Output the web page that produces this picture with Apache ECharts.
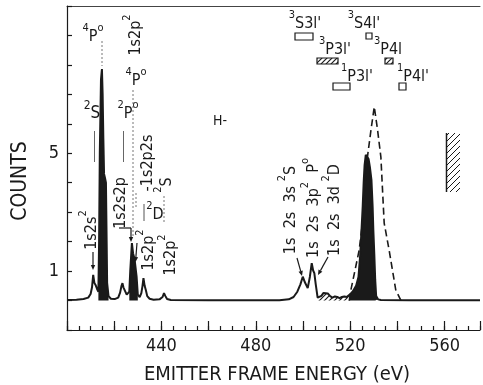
<!DOCTYPE html>
<html><head><meta charset="utf-8">
<script src="https://cdn.jsdelivr.net/npm/echarts@6/dist/echarts.min.js"></script>
<style>html,body{margin:0;padding:0;background:#fff}#c{width:483px;height:385px}</style>
</head><body><div id="c"></div>
<script>
// ---------- data ----------
const solidEnergy = [400,404,407,409,410,410.6,411.1,411.6,412.1,412.7,413.3,413.6,413.9,414.4,414.8,415.1,415.4,415.7,416.1,416.5,416.8,417.0,417.6,418.6,420.2,421.7,422.5,423.1,423.5,423.9,424.6,425.3,425.9,426.4,426.8,427.5,428.0,428.6,429.1,429.5,430.0,430.8,431.5,432.0,432.4,432.9,433.4,434.0,435.0,436.7,439.2,440.5,441.1,441.7,442.4,444,460,490,494.0,496.0,497.6,498.9,499.9,500.8,502.0,502.9,503.7,504.3,504.8,505.4,506.2,507.0,507.8,508.7,509.5,510.5,511.5,512.5,513.5,514.5,515.5,516.5,517.5,518.5,519.8,521,522.5,523.5,524.2,524.8,525.3,525.7,526.1,526.6,527.2,527.8,528.4,529.0,529.5,529.8,530.2,530.6,531.0,531.8,533,545,575];
const solidCounts = [0.02,0.03,0.05,0.1,0.22,0.45,0.87,0.6,0.53,0.4,0.3,2.0,5.0,7.5,7.86,7.0,5.5,4.3,4.16,4.0,2.0,0.6,0.15,0.06,0.05,0.1,0.27,0.5,0.59,0.45,0.39,0.2,0.15,0.3,1.0,1.95,1.6,1.42,1.38,0.8,0.2,0.12,0.25,0.5,0.76,0.5,0.36,0.15,0.06,0.03,0.04,0.12,0.25,0.15,0.05,0.02,0.01,0.01,0.04,0.12,0.3,0.55,0.81,0.62,0.42,0.8,1.27,1.02,0.93,0.55,0.1,0.06,0.16,0.26,0.3,0.24,0.15,0.1,0.14,0.12,0.08,0.12,0.14,0.12,0.2,0.3,0.5,0.8,1.5,2.4,3.2,4.0,4.6,4.95,4.95,4.8,4.5,4.1,3.2,2.4,1.6,0.7,0.15,0.04,0.02,0.01,0.01];
const dashedEnergy = [519.6,520.3,523.8,525.2,527.3,528.8,530.2,531.6,533.0,534.4,536.5,539.3,541.5];
const dashedCounts = [0.0,0.36,1.71,2.63,4.87,5.79,6.58,5.79,4.87,2.63,1.71,0.36,0.0];
const blackRanges = [[413.3,417.6],[426.4,430.0],[519.8,531.8]];
const hatchRange = [506.2,519.8];
const xTickLabels = [440,480,520,560];
const yTickLabels = [1,5];

// ---------- helpers ----------
const F = "'Liberation Sans Narrow','DejaVu Sans Condensed','DejaVu Sans',sans-serif";
const INK = '#1a1a1a';
function hatchCanvas(size, w){
  const c=document.createElement('canvas'); c.width=c.height=size;
  const g=c.getContext('2d'); g.strokeStyle=INK; g.lineWidth=w; g.beginPath();
  g.moveTo(0,size); g.lineTo(size,0);
  g.moveTo(-size/2,size/2); g.lineTo(size/2,-size/2);
  g.moveTo(size/2,size*1.5); g.lineTo(size*1.5,size/2);
  g.stroke(); return c;
}
const hatchPattern = {image: hatchCanvas(5,1.2), repeat:'repeat'};
const pts = solidEnergy.map((e,i)=>[e,solidCounts[i]]);
const inRange = r => pts.filter(p=>p[0]>=r[0]&&p[0]<=r[1]);

const rich = fs => ({
  n:{fontSize:fs, fontFamily:F, color:INK, lineHeight:fs+6, verticalAlign:'bottom'},
  s:{fontSize:Math.round(fs*0.68), fontFamily:F, color:INK, lineHeight:Math.round(fs*0.7), verticalAlign:'top'}
});
function T(x,y,text,fs,rot){
  return {type:'text', x:x, y:y, rotation: rot?Math.PI/2:0, z:10,
    style:{text:text, rich:rich(fs), align:'center', verticalAlign:'middle', fill:INK, font: fs+'px '+F}};
}
function L(x1,y1,x2,y2,opt){
  opt=opt||{};
  return {type:'line', z:9, shape:{x1,y1,x2,y2}, style:{stroke:opt.c||INK, lineWidth:opt.w||1, lineDash:opt.d||null}};
}
function A(x1,y1,x2,y2){
  const ang=Math.atan2(y2-y1,x2-x1), h=5, s=2.2;
  const bx=x2-h*Math.cos(ang), by=y2-h*Math.sin(ang);
  return [L(x1,y1,bx,by,{w:1.2}),
    {type:'polygon', z:9, shape:{points:[[x2,y2],[bx+s*Math.sin(ang),by-s*Math.cos(ang)],[bx-s*Math.sin(ang),by+s*Math.cos(ang)]]}, style:{fill:INK}}];
}
function R(x,y,w,h,fill){
  return {type:'rect', z:9, shape:{x,y,width:w,height:h}, style:{fill:fill||'#fff', stroke:INK, lineWidth:1.2}};
}
const GRAY={c:'#777', w:1, d:[2,2]};

const graphics = [
  {type:'text', x:21, y:181, rotation:Math.PI/2, z:10, style:{text:'COUNTS', align:'center', verticalAlign:'middle', fill:INK, font:'21px '+F}},
  {type:'text', x:277, y:375, z:10, style:{text:'EMITTER FRAME ENERGY (eV)', align:'center', verticalAlign:'middle', fill:INK, font:'20px '+F}},
  T(93,34,'{s|4}{n|P}{s|o}',16), L(102,41,102,66,GRAY),
  T(133,35,'{n|1s2p}{s|2}',16,true),
  T(136,78,'{s|4}{n|P}{s|o}',16), L(133,90,133,236,GRAY),
  T(92,111,'{s|2}{n|S}',17), T(128,111,'{s|2}{n|P}{s|o}',16),
  L(94.5,131,94.5,162,{c:'#666'}), L(123.5,131,123.5,162,{c:'#666'}),
  T(220,118,'{n|H-}',14),
  T(145,163,'{n|-1s2p2s}',16,true),
  T(164,185,'{s|2}{n|S}',16,true),
  L(136,193,136,208,GRAY), L(164,196,164,222,GRAY),
  L(144,204,144,221,{c:'#555'}),
  T(155,212,'{s|2}{n|D}',16),
  T(89,230,'{n|1s2s}{s|2}',16,true), ...A(93,252,93,270),
  T(118,203,'{n|1s2s2p}',16,true), L(119,228,131,228,{w:1.2}), ...A(131,228,131,242),
  T(146,250,'{n|1s2p}{s|2}',16,true), ...A(137,243,135.5,262),
  T(168,255,'{n|1s2p}{s|2}',16,true),
  T(288,210,'{n|1s  2s  3s }{s|2}{n|S}',16,true),
  T(311,208,'{n|1s  2s  3p}{s|2}{n|  P}{s|o}',16,true),
  T(332,210,'{n|1s  2s  3d }{s|2}{n|D}',16,true),
  ...A(297,258,302,276), ...A(328,257,318,275),
  T(305,21,'{s|3}{n|S3l\'}',16), R(295,33,18,7),
  T(364,21,'{s|3}{n|S4l\'}',16), R(366,33,6,6),
  T(335,47,'{s|3}{n|P3l\'}',16), R(317,58,21,6,hatchPattern),
  T(388,47,'{s|3}{n|P4l}',16), R(385,58,8,6,hatchPattern),
  T(357,74,'{s|1}{n|P3l\'}',16), R(333,83,17,7),
  T(413,74,'{s|1}{n|P4l\'}',16), R(399,83,7,7),
  {type:'rect', z:9, shape:{x:446,y:133,width:14,height:59}, style:{fill:{image:hatchCanvas(6,1),repeat:'repeat'}}},
  L(446.5,133,446.5,192,{w:1.5})
];

// ---------- chart ----------
const chart = echarts.init(document.getElementById('c'), null, {renderer:'canvas'});
const axisStyle = {color:INK, width:1.2};
const series = [
  {type:'line', data:inRange(hatchRange), symbol:'none', lineStyle:{width:0}, areaStyle:{color:hatchPattern, opacity:1}, z:2, silent:true},
  ...blackRanges.map(r=>({type:'line', data:inRange(r), symbol:'none', lineStyle:{width:0}, areaStyle:{color:INK, opacity:1}, z:3, silent:true})),
  {type:'line', data:pts, symbol:'none', lineStyle:{color:INK, width:2}, z:4, silent:true},
  {type:'line', data:dashedEnergy.map((e,i)=>[e,dashedCounts[i]]), symbol:'none', lineStyle:{color:INK, width:1.6, type:[7,4]}, z:5, silent:true}
];
chart.setOption({
  animation:false,
  backgroundColor:'#fff',
  grid:{left:67, right:2, top:6, bottom:55},
  xAxis:[
    {type:'value', min:400, max:575, interval:5, position:'bottom',
      axisLine:{show:true, onZero:false, lineStyle:axisStyle},
      axisTick:{show:true, inside:true, length:4, lineStyle:axisStyle},
      axisLabel:{show:false}, splitLine:{show:false}},
    {type:'value', min:400, max:575, interval:20, position:'bottom',
      axisLine:{show:false, onZero:false},
      axisTick:{show:true, inside:true, length:9, lineStyle:axisStyle},
      axisLabel:{formatter:v=>xTickLabels.includes(v)?String(v):'', margin:7, fontSize:18, fontFamily:F, color:INK},
      splitLine:{show:false}},
    {type:'value', min:400, max:575, position:'top',
      axisLine:{show:true, onZero:false, lineStyle:{color:'#444', width:1}},
      axisTick:{show:false}, axisLabel:{show:false}, splitLine:{show:false}}
  ],
  yAxis:{type:'value', min:-1, max:10, interval:1,
    axisLine:{show:true, onZero:false, lineStyle:axisStyle},
    axisTick:{show:true, inside:true, length:5, lineStyle:axisStyle},
    axisLabel:{formatter:v=>yTickLabels.includes(v)?String(v):'', margin:8, padding:[10,0,0,0], fontSize:18, fontFamily:F, color:INK},
    splitLine:{show:false}},
  series: series,
  graphic: graphics
});
</script></body></html>
